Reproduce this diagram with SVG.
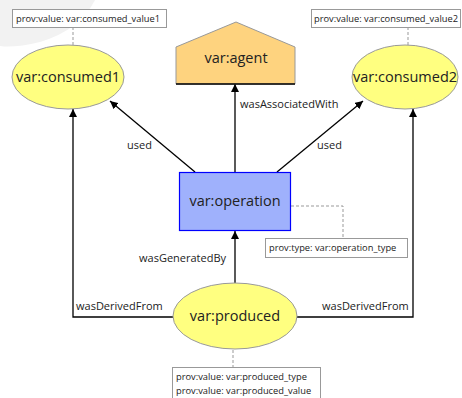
<svg xmlns="http://www.w3.org/2000/svg" width="462" height="398" viewBox="0 0 462 398">
<defs>
<style>
.n{font-family:"Open Sans","Noto Sans",sans-serif;font-size:14.5px;fill:#222;text-anchor:middle}
.l{font-family:"Open Sans","Noto Sans",sans-serif;font-size:11px;fill:#222}
.s{font-family:"Open Sans","Noto Sans",sans-serif;font-size:9.3px;fill:#222}
.e{fill:none;stroke:#000;stroke-width:1.3}
.d{fill:none;stroke:#999;stroke-width:1;stroke-dasharray:3,2}
.note{fill:#fff;stroke:#999;stroke-width:1}
.ell{fill:#ffff80;stroke:#999;stroke-width:1}
</style>
<marker id="a" viewBox="0 0 10 10" refX="10" refY="5" markerWidth="8" markerHeight="8" orient="auto" markerUnits="userSpaceOnUse">
<path d="M0,0 L10,5 L0,10 Z" fill="#000"/>
</marker>
</defs>
<rect width="462" height="398" fill="#fff"/>
<path d="M0,0 L95,0 Q80,30 40,42 Q15,48 0,46 Z" fill="#f2f2f2"/>
<g id="connectors">
<line class="e" x1="195" y1="172" x2="110" y2="101" marker-end="url(#a)"/>
<line class="e" x1="277" y1="172" x2="363" y2="101" marker-end="url(#a)"/>
<line class="e" x1="235" y1="172" x2="235" y2="84" marker-end="url(#a)"/>
<line class="e" x1="235" y1="283" x2="235" y2="231" marker-end="url(#a)"/>
<polyline class="e" points="173,317 73,317 73,109" marker-end="url(#a)"/>
<polyline class="e" points="297,317 413,317 413,109" marker-end="url(#a)"/>
<text class="l" x="127" y="149">used</text>
<text class="l" x="317" y="149">used</text>
<text class="l" x="240" y="108">wasAssociatedWith</text>
<text class="l" x="139" y="262">wasGeneratedBy</text>
<text class="l" x="76" y="310">wasDerivedFrom</text>
<text class="l" x="322" y="310">wasDerivedFrom</text>
<polyline class="d" points="73,27 73,46"/>
<polyline class="d" points="408,27 408,46"/>
<polyline class="d" points="291,206 343,206 343,238"/>
<polyline class="d" points="233,350 233,367"/>
</g>
<g id="consumed1">
<ellipse class="ell" cx="68" cy="77" rx="56" ry="32"/>
<text class="n" x="68" y="82">var:consumed1</text>
</g>
<g id="consumed1-note">
<rect class="note" x="12.5" y="9.5" width="154" height="18"/>
<text class="s" x="16" y="22">prov:value: var:consumed_value1</text>
</g>
<g id="consumed2">
<ellipse class="ell" cx="405" cy="77" rx="53" ry="32"/>
<text class="n" x="405" y="82">var:consumed2</text>
</g>
<g id="consumed2-note">
<rect class="note" x="311.5" y="9.5" width="149" height="18"/>
<text class="s" x="314" y="22">prov:value: var:consumed_value2</text>
</g>
<g id="agent">
<polygon points="176,47 236,22 295,47 295,84 176,84" fill="#fed37f" stroke="#999" stroke-width="1"/>
<line x1="176" y1="84" x2="295" y2="84" stroke="#000" stroke-width="1.5"/>
<text class="n" x="236" y="63">var:agent</text>
</g>
<g id="operation">
<rect x="179.5" y="172.5" width="111" height="58" fill="#9fb1fc" stroke="#0000ff" stroke-width="1.2"/>
<text class="n" x="235" y="206">var:operation</text>
</g>
<g id="operation-note">
<rect class="note" x="265.5" y="238.5" width="142" height="19"/>
<text class="s" x="269" y="251">prov:type: var:operation_type</text>
</g>
<g id="produced">
<ellipse class="ell" cx="235" cy="316" rx="62" ry="33"/>
<text class="n" x="235" y="321">var:produced</text>
</g>
<g id="produced-note">
<rect class="note" x="172.5" y="367.5" width="148" height="34"/>
<text class="s" x="176" y="380">prov:value: var:produced_type</text>
<text class="s" x="176" y="394">prov:value: var:produced_value</text>
</g>
</svg>
